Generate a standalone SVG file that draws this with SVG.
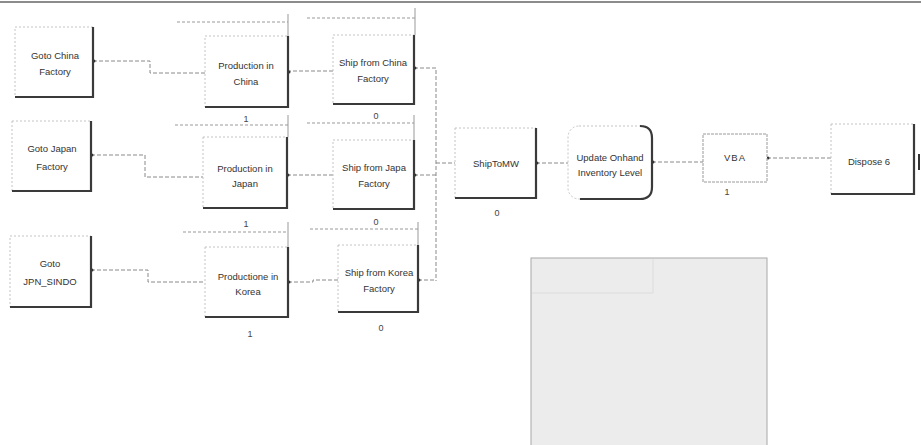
<svg xmlns="http://www.w3.org/2000/svg" width="921" height="445" viewBox="0 0 921 445">
<style>
.bx{fill:#fff;stroke:#c4c4c4;stroke-width:1;stroke-dasharray:2 2}
.sh{fill:none;stroke:#3a3a3a;stroke-width:2.2}
.t{font-family:"Liberation Sans",Arial,sans-serif;font-size:9.5px;fill:#333;text-anchor:middle}
.n{font-family:"Liberation Sans",Arial,sans-serif;font-size:9px;fill:#444;text-anchor:middle}
.c{fill:none;stroke:#8a8a8a;stroke-width:1;stroke-dasharray:4 2}
.q{fill:none;stroke:#999;stroke-width:1;stroke-dasharray:3 2}
.qv{fill:none;stroke:#999;stroke-width:1}
.d{fill:#333}
</style>
<rect width="921" height="445" fill="#fff"/>
<line x1="0" y1="2" x2="921" y2="2" stroke="#8c8c8c" stroke-width="2"/>

<g id="shade-area">
<rect x="531" y="258" width="236" height="190" fill="#ececec" stroke="#a8a8a8" stroke-width="1"/>
<path d="M653 259V293M532 293H653" stroke="#dcdcdc" stroke-width="1" fill="none"/>
</g>

<g id="connectors">
<path class="c" d="M93 61H150V73H205"/>
<path class="c" d="M91 155H145V177H203"/>
<path class="c" d="M91 270H148V282H205"/>
<path class="c" d="M333 71H288"/>
<path class="c" d="M333 175H287"/>
<path class="c" d="M338 280H313V282H288"/>
<path class="c" d="M414 68H436V281M414 175H436M418 280H436"/>
<path class="c" d="M436 163H455"/>
<path class="c" d="M536 163H568"/>
<path class="c" d="M652 162H703"/>
<path class="c" d="M767 158H831"/>
<circle class="d" cx="94" cy="61" r="1.5"/>
<circle class="d" cx="92" cy="155" r="1.5"/>
<circle class="d" cx="92" cy="270" r="1.5"/>
<circle class="d" cx="289" cy="72" r="1.5"/>
<circle class="d" cx="288" cy="175" r="1.5"/>
<circle class="d" cx="289" cy="282" r="1.5"/>
<circle class="d" cx="415" cy="68" r="1.5"/>
<circle class="d" cx="415" cy="175" r="1.5"/>
<circle class="d" cx="419" cy="280" r="1.5"/>
<circle class="d" cx="537" cy="163" r="1.5"/>
<circle class="d" cx="653" cy="162" r="1.5"/>
<circle class="d" cx="768" cy="158" r="1.5"/>
</g>

<g id="queues">
<path class="q" d="M177 22H288M175 125H288M183 232H288M307 18H415M307 123H414M310 229H418"/>
<path class="qv" d="M288 14V36M288 115V137M288 222V247M415 8V35M414 115V140M418 222V245"/>
</g>

<g id="goto-china">
<rect class="bx" x="15" y="27" width="78" height="70"/>
<path class="sh" d="M93 27V97H15"/>
<text class="t" x="55" y="59">Goto China</text>
<text class="t" x="55" y="75">Factory</text>
</g>
<g id="goto-japan">
<rect class="bx" x="12" y="121" width="79" height="70"/>
<path class="sh" d="M91 121V191H12"/>
<text class="t" x="52" y="152">Goto Japan</text>
<text class="t" x="52" y="170">Factory</text>
</g>
<g id="goto-jpn-sindo">
<rect class="bx" x="10" y="236" width="81" height="71"/>
<path class="sh" d="M91 236V307H10"/>
<text class="t" x="50" y="267">Goto</text>
<text class="t" x="50" y="285">JPN_SINDO</text>
</g>

<g id="production-china">
<rect class="bx" x="205" y="36" width="83" height="71"/>
<path class="sh" d="M288 36V107H205"/>
<text class="t" x="246" y="69">Production in</text>
<text class="t" x="246" y="85">China</text>
<text class="n" x="246" y="122">1</text>
</g>
<g id="production-japan">
<rect class="bx" x="203" y="137" width="84" height="71"/>
<path class="sh" d="M287 137V208H203"/>
<text class="t" x="245" y="172">Production in</text>
<text class="t" x="245" y="187">Japan</text>
<text class="n" x="246" y="227">1</text>
</g>
<g id="production-korea">
<rect class="bx" x="205" y="247" width="83" height="70"/>
<path class="sh" d="M288 247V317H205"/>
<text class="t" x="248" y="280">Productione in</text>
<text class="t" x="248" y="295">Korea</text>
<text class="n" x="250" y="337">1</text>
</g>

<g id="ship-china">
<rect class="bx" x="333" y="35" width="81" height="69"/>
<path class="sh" d="M414 35V104H333"/>
<text class="t" x="373" y="66">Ship from China</text>
<text class="t" x="373" y="82">Factory</text>
<text class="n" x="376" y="119">0</text>
</g>
<g id="ship-japan">
<rect class="bx" x="333" y="140" width="81" height="69"/>
<path class="sh" d="M414 140V209H333"/>
<text class="t" x="374" y="171">Ship from Japa</text>
<text class="t" x="374" y="187">Factory</text>
<text class="n" x="376" y="225">0</text>
</g>
<g id="ship-korea">
<rect class="bx" x="338" y="245" width="80" height="67"/>
<path class="sh" d="M418 245V312H338"/>
<text class="t" x="379" y="276">Ship from Korea</text>
<text class="t" x="379" y="292">Factory</text>
<text class="n" x="381" y="331">0</text>
</g>

<g id="shiptomw">
<rect class="bx" x="455" y="128" width="81" height="70"/>
<path class="sh" d="M536 128V198H455"/>
<text class="t" x="496" y="167">ShipToMW</text>
<text class="n" x="497" y="216">0</text>
</g>

<g id="update-onhand">
<rect class="bx" x="568" y="126" width="84" height="73" rx="11"/>
<path class="sh" stroke-width="3" d="M640 126Q652 126 652 138V187Q652 199 640 199H580"/>
<text class="t" x="610" y="161">Update Onhand</text>
<text class="t" x="610" y="176">Inventory Level</text>
</g>

<g id="vba">
<rect x="703" y="134" width="64" height="48" fill="#fff" stroke="#9a9a9a" stroke-width="1" stroke-dasharray="3 1"/>
<text class="t" x="735" y="161" font-size="11" letter-spacing="1">VBA</text>
<text class="n" x="727" y="195">1</text>
</g>

<g id="dispose-6">
<rect class="bx" x="831" y="124" width="83" height="70"/>
<path class="sh" d="M914 124V194H831"/>
<text class="t" x="869" y="165">Dispose 6</text>
</g>
<line x1="919" y1="154" x2="919" y2="170" stroke="#333" stroke-width="2"/>
</svg>
